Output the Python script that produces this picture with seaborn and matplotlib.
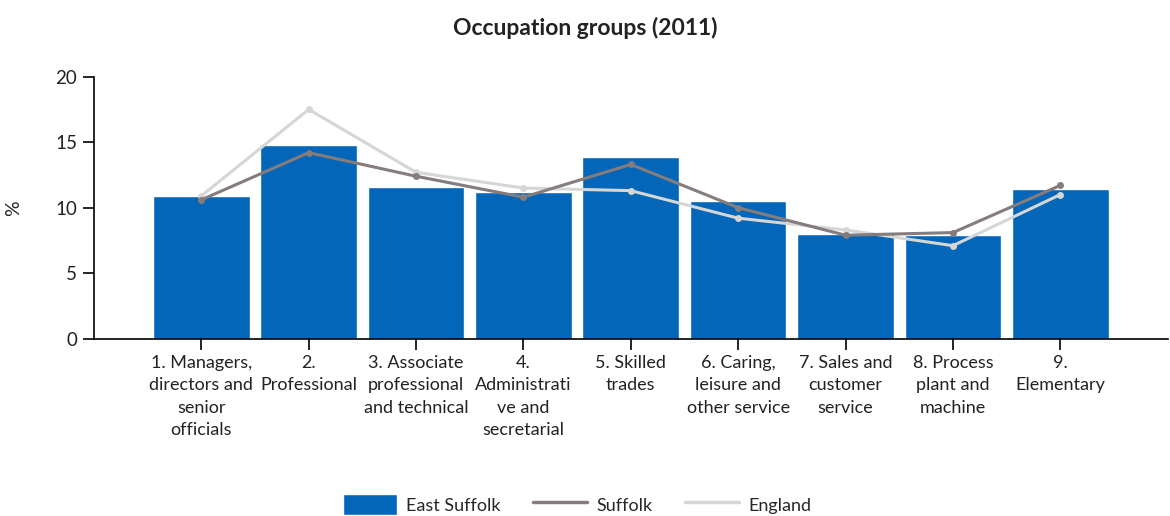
import seaborn as sns
import pandas as pd
import numpy as np
import matplotlib.pyplot as plt
from matplotlib.patches import Patch
from matplotlib.lines import Line2D

sns.set_style("white")
plt.rcParams['font.family'] = ['Liberation Sans Narrow', 'Lato', 'DejaVu Sans']

categories = ["1. Managers,\ndirectors and\nsenior\nofficials",
              "2.\nProfessional",
              "3. Associate\nprofessional\nand technical",
              "4.\nAdministrati\nve and\nsecretarial",
              "5. Skilled\ntrades",
              "6. Caring,\nleisure and\nother service",
              "7. Sales and\ncustomer\nservice",
              "8. Process\nplant and\nmachine",
              "9.\nElementary"]
east_suffolk = [10.9, 14.8, 11.6, 11.2, 13.9, 10.5, 8.0, 7.9, 11.4]
suffolk = [10.6, 14.2, 12.4, 10.8, 13.3, 10.0, 7.9, 8.1, 11.7]
england = [10.9, 17.5, 12.7, 11.5, 11.3, 9.2, 8.3, 7.1, 11.0]

bar_col = "#0366b8"
suffolk_col = "#857c7c"
england_col = "#d6d6d6"

pos = np.arange(1, len(categories) + 1)
df = pd.DataFrame({"pos": pos, "east": east_suffolk,
                   "suffolk": suffolk, "england": england})

fig = plt.figure(figsize=(11.7, 5.16), dpi=100)
ax = fig.add_axes([0.0803, 0.3436, 0.9177, 0.5078])

ax.bar(df["pos"], df["east"], width=0.9, color=bar_col, zorder=1)
sns.lineplot(x="pos", y="england", data=df, ax=ax, color=england_col,
             linewidth=2.2, marker="o", markersize=5, markeredgewidth=0, zorder=2)
sns.lineplot(x="pos", y="suffolk", data=df, ax=ax, color=suffolk_col,
             linewidth=2.2, marker="o", markersize=5, markeredgewidth=0, zorder=3)

ax.set_xlim(0, 10)
ax.set_ylim(0, 20)
ax.set_xticks(pos)
ax.set_xticklabels(categories, fontsize=13, color="#222222", linespacing=1.5)
ax.set_yticks([0, 5, 10, 15, 20])
ax.set_yticklabels(["0", "5", "10", "15", "20"], fontsize=13.5, color="#222222")
ax.tick_params(axis="both", direction="out", length=8, width=1.2, color="black",
               bottom=True, left=True)
ax.tick_params(axis="y", pad=4)
for s in ["top", "right"]:
    ax.spines[s].set_visible(False)
for s in ["left", "bottom"]:
    ax.spines[s].set_color("black")
    ax.spines[s].set_linewidth(1.2)
ax.set_xlabel("")
ax.set_ylabel("%", fontsize=14, color="#222222", labelpad=24)

fig.text(0.5, 0.945, "Occupation groups (2011)", ha="center", va="center",
         fontsize=16.5, fontweight="bold", color="#222222")

handles = [Patch(facecolor=bar_col, label="East Suffolk"),
           Line2D([0], [0], color=suffolk_col, lw=2.5, label="Suffolk"),
           Line2D([0], [0], color=england_col, lw=2.5, label="England")]
fig.legend(handles=handles, loc="center", bbox_to_anchor=(0.493, 0.022), ncol=3,
           frameon=False, fontsize=13, handlelength=3.0, handleheight=1.4,
           columnspacing=1.8, handletextpad=0.5)

fig.savefig("out.png", dpi=100)
